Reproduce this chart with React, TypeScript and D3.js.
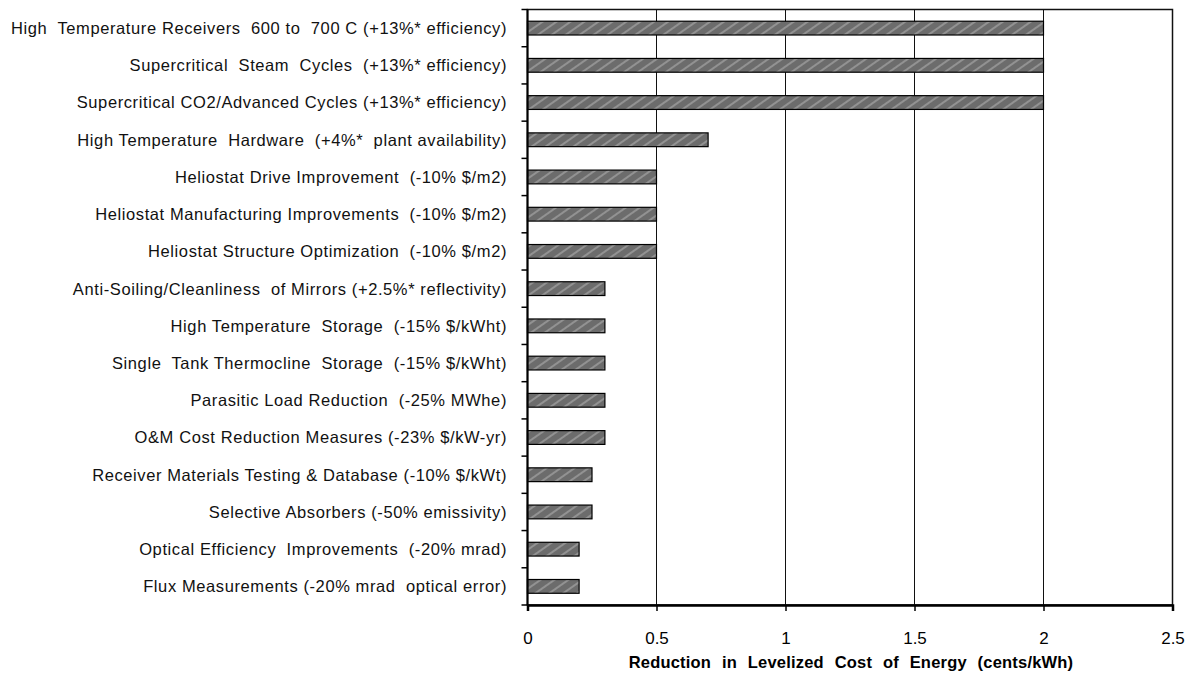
import * as d3 from "d3";
import { useEffect, useRef } from "react";

const categories = [
  "High  Temperature Receivers  600 to  700 C (+13%* efficiency)",
  "Supercritical  Steam  Cycles  (+13%* efficiency)",
  "Supercritical CO2/Advanced Cycles (+13%* efficiency)",
  "High Temperature  Hardware  (+4%*  plant availability)",
  "Heliostat Drive Improvement  (-10% $/m2)",
  "Heliostat Manufacturing Improvements  (-10% $/m2)",
  "Heliostat Structure Optimization  (-10% $/m2)",
  "Anti-Soiling/Cleanliness  of Mirrors (+2.5%* reflectivity)",
  "High Temperature  Storage  (-15% $/kWht)",
  "Single  Tank Thermocline  Storage  (-15% $/kWht)",
  "Parasitic Load Reduction  (-25% MWhe)",
  "O&M Cost Reduction Measures (-23% $/kW-yr)",
  "Receiver Materials Testing & Database (-10% $/kWt)",
  "Selective Absorbers (-50% emissivity)",
  "Optical Efficiency  Improvements  (-20% mrad)",
  "Flux Measurements (-20% mrad  optical error)",
];

const values = [2, 2, 2, 0.7, 0.5, 0.5, 0.5, 0.3, 0.3, 0.3, 0.3, 0.3, 0.25, 0.25, 0.2, 0.2];

const xTicks = [0, 0.5, 1, 1.5, 2, 2.5];
const xTitle = "Reduction in Levelized Cost of Energy (cents/kWh)";

const W = 1193;
const H = 677;
const left = 527.5;
const right = 1172.5;
const top = 9.5;
const bottom = 605;

export default function App() {
  const ref = useRef<SVGSVGElement>(null);

  useEffect(() => {
    if (!ref.current) return;
    const svg = d3.select(ref.current);
    svg.selectAll("*").remove();

    const font = "'Liberation Sans', Arial, sans-serif";

    const x = d3.scaleLinear().domain([0, 2.5]).range([left, right]);
    const y = d3.scaleBand().domain(categories).range([top, bottom]).paddingInner(0.63).paddingOuter(0.315);
    const band = d3.scaleBand().domain(categories).range([top, bottom]);

    // hatch pattern for bars
    const defs = svg.append("defs");
    const pat = defs.append("pattern")
      .attr("id", "hatch")
      .attr("patternUnits", "userSpaceOnUse")
      .attr("width", 8)
      .attr("height", 8)
      .attr("patternTransform", "rotate(-35)");
    pat.append("rect").attr("width", 8).attr("height", 8).attr("fill", "#6c6c6c");
    pat.append("rect").attr("width", 8).attr("height", 2).attr("fill", "#929292");

    svg.append("rect").attr("width", W).attr("height", H).attr("fill", "#fff");

    // gridlines
    svg.append("g")
      .selectAll("line")
      .data(xTicks.slice(1, -1))
      .join("line")
      .attr("x1", (d) => x(d))
      .attr("x2", (d) => x(d))
      .attr("y1", top)
      .attr("y2", bottom)
      .attr("stroke", "#111")
      .attr("stroke-width", 1);

    // bars
    svg.append("g")
      .selectAll("rect")
      .data(values)
      .join("rect")
      .attr("x", x(0))
      .attr("y", (_, i) => y(categories[i])!)
      .attr("width", (d) => x(d) - x(0))
      .attr("height", y.bandwidth())
      .attr("fill", "url(#hatch)")
      .attr("stroke", "#000")
      .attr("stroke-width", 1.2);

    // frame
    svg.append("rect")
      .attr("x", left)
      .attr("y", top)
      .attr("width", right - left)
      .attr("height", bottom - top)
      .attr("fill", "none")
      .attr("stroke", "#111")
      .attr("stroke-width", 1.5);

    // bottom axis
    const xAxis = svg.append("g")
      .attr("transform", `translate(0,${bottom})`)
      .call(d3.axisBottom(x).tickValues(xTicks).tickSize(6).tickPadding(21).tickFormat((d) => String(d)));
    xAxis.select(".domain").attr("stroke", "#000").attr("stroke-width", 2.5);
    xAxis.selectAll(".tick line").attr("stroke", "#000").attr("stroke-width", 1.5);
    xAxis.selectAll("text").attr("font-family", font).attr("font-size", 17).attr("fill", "#000");

    // left axis ticks between bands
    const yTicks = categories.map((_, i) => top + i * band.step()).concat([bottom]);
    svg.append("g")
      .selectAll("line")
      .data(yTicks)
      .join("line")
      .attr("x1", left - 6)
      .attr("x2", left)
      .attr("y1", (d) => d)
      .attr("y2", (d) => d)
      .attr("stroke", "#000")
      .attr("stroke-width", 1.5);
    svg.append("line")
      .attr("x1", left).attr("x2", left)
      .attr("y1", top).attr("y2", bottom)
      .attr("stroke", "#000").attr("stroke-width", 2);

    // category labels
    svg.append("g")
      .selectAll("text")
      .data(categories)
      .join("text")
      .attr("x", left - 20.5)
      .attr("y", (d) => band(d)! + band.bandwidth() / 2)
      .attr("dy", "0.36em")
      .attr("text-anchor", "end")
      .attr("font-family", font)
      .attr("font-size", 16.5)
      .attr("fill", "#111")
      .style("white-space", "pre")
      .style("letter-spacing", "0.6px")
      .text((d) => d);

    // axis title
    svg.append("text")
      .attr("x", (left + right) / 2 + 1)
      .attr("y", 668)
      .attr("text-anchor", "middle")
      .attr("font-family", font)
      .attr("font-size", 16.5)
      .attr("font-weight", "bold")
      .attr("fill", "#000")
      .style("word-spacing", "6px")
      .style("letter-spacing", "0.2px")
      .text(xTitle);
  }, []);

  return (
    <svg
      ref={ref}
      width={W}
      height={H}
      style={{ position: "absolute", left: 0, top: 0, display: "block" }}
    />
  );
}
